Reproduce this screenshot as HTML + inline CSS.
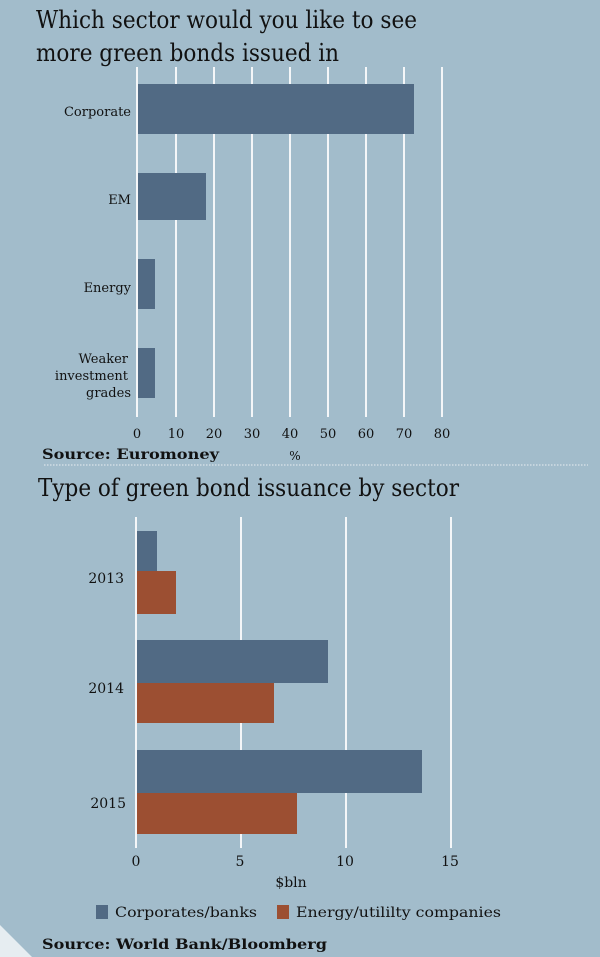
<!DOCTYPE html>
<html><head><meta charset="utf-8"><style>
html,body{margin:0;padding:0;background:#a2bccb;}
svg{display:block;}
text{font-family:"DejaVu Serif","Liberation Serif",serif;fill:#111;}
</style></head><body>
<svg width="600" height="957" viewBox="0 0 600 957" xmlns="http://www.w3.org/2000/svg">
<rect width="600" height="957" fill="#a2bccb"/>
<polygon points="0,925 0,957 32,957" fill="#e6edf1"/>
<text x="36" y="28" font-size="24" textLength="381" lengthAdjust="spacingAndGlyphs">Which sector would you like to see</text>
<text x="36" y="61" font-size="24" textLength="303" lengthAdjust="spacingAndGlyphs">more green bonds issued in</text>
<g stroke="#f4f6f8" stroke-width="2">
<line x1="137" y1="67" x2="137" y2="417"/><line x1="176" y1="67" x2="176" y2="417"/>
<line x1="214" y1="67" x2="214" y2="417"/><line x1="252" y1="67" x2="252" y2="417"/>
<line x1="290" y1="67" x2="290" y2="417"/><line x1="328" y1="67" x2="328" y2="417"/>
<line x1="366" y1="67" x2="366" y2="417"/><line x1="404" y1="67" x2="404" y2="417"/>
<line x1="442" y1="67" x2="442" y2="417"/>
</g>
<g fill="#516a84">
<rect x="138" y="84" width="276" height="50"/>
<rect x="138" y="173" width="68" height="47"/>
<rect x="138" y="259" width="17" height="50"/>
<rect x="138" y="348" width="17" height="50"/>
</g>
<g font-size="13" text-anchor="end">
<text x="131" y="116">Corporate</text>
<text x="131" y="204">EM</text>
<text x="131" y="292">Energy</text>
<text x="128" y="363">Weaker</text>
<text x="128" y="380">investment</text>
<text x="131" y="397">grades</text>
</g>
<g font-size="13" text-anchor="middle">
<text x="137" y="438">0</text><text x="176" y="438">10</text><text x="214" y="438">20</text>
<text x="252" y="438">30</text><text x="290" y="438">40</text><text x="328" y="438">50</text>
<text x="366" y="438">60</text><text x="404" y="438">70</text><text x="442" y="438">80</text>
<text x="295" y="460" font-size="12">%</text>
</g>
<text x="42" y="459" font-size="14" font-weight="bold" textLength="177" lengthAdjust="spacingAndGlyphs">Source: Euromoney</text>
<line x1="44" y1="465" x2="588" y2="465" stroke="#e8eef2" stroke-width="1" stroke-dasharray="1.5,1.5"/>
<text x="38" y="496" font-size="24" textLength="421" lengthAdjust="spacingAndGlyphs">Type of green bond issuance by sector</text>
<g stroke="#f4f6f8" stroke-width="2">
<line x1="136" y1="517" x2="136" y2="848"/><line x1="241" y1="517" x2="241" y2="848"/>
<line x1="346" y1="517" x2="346" y2="848"/><line x1="451" y1="517" x2="451" y2="848"/>
</g>
<g fill="#516a84">
<rect x="137" y="531" width="20" height="40"/>
<rect x="137" y="640" width="191" height="43"/>
<rect x="137" y="750" width="285" height="43"/>
</g>
<g fill="#9c4f32">
<rect x="137" y="571" width="39" height="43"/>
<rect x="137" y="683" width="137" height="40"/>
<rect x="137" y="793" width="160" height="41"/>
</g>
<g font-size="14" text-anchor="end">
<text x="124" y="583">2013</text><text x="124" y="693">2014</text><text x="126" y="808">2015</text>
</g>
<g font-size="14" text-anchor="middle">
<text x="136" y="866">0</text><text x="240" y="866">5</text><text x="345" y="866">10</text><text x="450" y="866">15</text>
<text x="291" y="887">$bln</text>
</g>
<rect x="96" y="905" width="12" height="14" fill="#516a84"/>
<text x="115" y="917" font-size="14" textLength="142" lengthAdjust="spacingAndGlyphs">Corporates/banks</text>
<rect x="277" y="905" width="12" height="14" fill="#9c4f32"/>
<text x="296" y="917" font-size="14" textLength="205" lengthAdjust="spacingAndGlyphs">Energy/utililty companies</text>
<text x="42" y="949" font-size="14" font-weight="bold" textLength="285" lengthAdjust="spacingAndGlyphs">Source: World Bank/Bloomberg</text>
</svg>
</body></html>
